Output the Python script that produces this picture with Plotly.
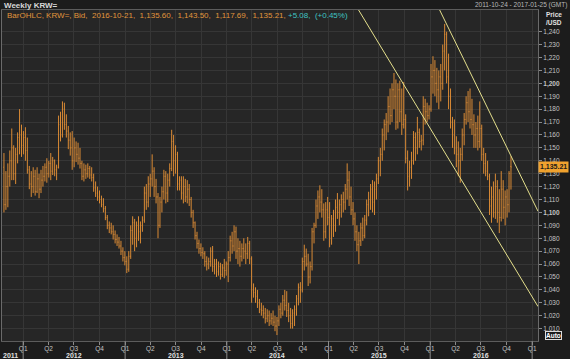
import plotly.graph_objects as go
import pandas as pd

# ---------------- data (weekly USD/KRW bars) ----------------
first_week = "2011-10-24"

opens = [1135, 1106, 1120, 1128, 1140, 1150, 1130, 1145, 1158, 1160,
         1152, 1158, 1148, 1133, 1122, 1120, 1128, 1116, 1126, 1118,
         1125, 1128, 1135, 1130, 1138, 1132, 1140, 1133, 1135, 1168,
         1160, 1180, 1168, 1163, 1156, 1150, 1140, 1150, 1145, 1142,
         1138, 1128, 1133, 1130, 1134, 1129, 1127, 1119, 1115, 1112,
         1110, 1106, 1103, 1096, 1090, 1088, 1085, 1083, 1079, 1077,
         1074, 1070, 1065, 1062, 1056, 1066, 1086, 1092, 1080, 1090,
         1085, 1090, 1094, 1115, 1108, 1122, 1126, 1132, 1120, 1112,
         1090, 1108, 1116, 1128, 1115, 1125, 1134, 1155, 1140, 1145,
         1122, 1125, 1115, 1120, 1112, 1118, 1110, 1100, 1092, 1082,
         1076, 1072, 1069, 1068, 1062, 1060, 1062, 1070, 1058, 1060,
         1054, 1058, 1052, 1057, 1055, 1060, 1065, 1078, 1074, 1085,
         1070, 1072, 1066, 1072, 1070, 1068, 1076, 1064, 1040, 1038,
         1035, 1030, 1025, 1024, 1022, 1018, 1020, 1016, 1018, 1015,
         1012, 1016, 1025, 1022, 1032, 1028, 1024, 1020, 1014, 1022,
         1025, 1033, 1042, 1040, 1062, 1066, 1060, 1050, 1058, 1085,
         1090, 1105, 1112, 1108, 1102, 1085, 1102, 1096, 1080, 1095,
         1090, 1104, 1100, 1106, 1110, 1108, 1118, 1125, 1112, 1102,
         1095, 1085, 1075, 1078, 1088, 1082, 1094, 1106, 1110, 1118,
         1108, 1118, 1126, 1140, 1145, 1160, 1168, 1170, 1182, 1175,
         1195, 1190, 1170, 1195, 1178, 1168, 1172, 1142, 1128, 1135,
         1140, 1158, 1150, 1162, 1155, 1156, 1182, 1178, 1175, 1180,
         1205, 1210, 1200, 1195, 1205, 1200, 1225, 1238, 1205, 1190,
         1170, 1160, 1150, 1145, 1140, 1145, 1160, 1172, 1185, 1178,
         1172, 1168, 1160, 1165, 1155, 1165, 1145, 1138, 1132, 1128,
         1105, 1112, 1100, 1120, 1100, 1096, 1118, 1104, 1112, 1106,
         1135.60]

highs = [1146, 1132, 1138, 1148, 1165, 1152, 1150, 1162, 1180, 1168,
         1163, 1166, 1158, 1136, 1132, 1135, 1133, 1135, 1130, 1133,
         1136, 1138, 1142, 1140, 1146, 1143, 1141, 1137, 1175, 1178,
         1186, 1185, 1176, 1167, 1162, 1163, 1158, 1155, 1154, 1150,
         1140, 1138, 1137, 1138, 1136, 1135, 1130, 1124, 1120, 1117,
         1113, 1111, 1105, 1098, 1093, 1092, 1090, 1086, 1083, 1081,
         1078, 1073, 1070, 1066, 1070, 1090, 1097, 1095, 1093, 1097,
         1093, 1097, 1120, 1122, 1128, 1130, 1145, 1135, 1126, 1115,
         1112, 1120, 1133, 1132, 1130, 1138, 1164, 1160, 1152, 1147,
         1128, 1128, 1128, 1126, 1125, 1122, 1112, 1102, 1093, 1085,
         1079, 1076, 1073, 1070, 1066, 1065, 1073, 1074, 1064, 1064,
         1062, 1061, 1060, 1064, 1062, 1070, 1082, 1085, 1090, 1089,
         1080, 1078, 1076, 1080, 1076, 1081, 1078, 1066, 1045, 1042,
         1040, 1033, 1030, 1028, 1026, 1025, 1024, 1022, 1024, 1020,
         1019, 1028, 1030, 1036, 1040, 1039, 1030, 1026, 1025, 1028,
         1036, 1045, 1046, 1065, 1075, 1072, 1068, 1062, 1088, 1092,
         1110, 1117, 1121, 1118, 1107, 1108, 1112, 1108, 1098, 1102,
         1110, 1115, 1110, 1114, 1116, 1122, 1138, 1132, 1120, 1108,
         1100, 1090, 1085, 1092, 1096, 1098, 1110, 1116, 1122, 1125,
         1124, 1130, 1143, 1150, 1165, 1172, 1177, 1190, 1196, 1200,
         1208, 1203, 1200, 1202, 1196, 1201, 1176, 1148, 1140, 1147,
         1163, 1162, 1174, 1165, 1160, 1190, 1188, 1185, 1183, 1215,
         1221, 1218, 1212, 1210, 1215, 1230, 1246, 1240, 1223, 1196,
         1174, 1172, 1159, 1155, 1150, 1165, 1177, 1190, 1194, 1196,
         1188, 1176, 1170, 1175, 1186, 1168, 1150, 1146, 1140, 1130,
         1120, 1124, 1130, 1125, 1118, 1132, 1125, 1117, 1118, 1132,
         1143.50]

lows = [1100, 1102, 1104, 1120, 1125, 1125, 1122, 1138, 1145, 1143,
        1145, 1140, 1130, 1118, 1112, 1115, 1113, 1115, 1111, 1115,
        1120, 1124, 1123, 1127, 1125, 1129, 1128, 1125, 1134, 1155,
        1158, 1164, 1158, 1149, 1144, 1133, 1135, 1139, 1137, 1134,
        1125, 1124, 1126, 1127, 1126, 1124, 1116, 1112, 1109, 1107,
        1104, 1100, 1094, 1087, 1084, 1083, 1079, 1076, 1074, 1072,
        1067, 1062, 1059, 1053, 1054, 1064, 1075, 1070, 1073, 1078,
        1076, 1085, 1092, 1102, 1104, 1112, 1120, 1112, 1107, 1080,
        1088, 1100, 1110, 1107, 1108, 1120, 1132, 1128, 1130, 1117,
        1117, 1110, 1107, 1108, 1107, 1105, 1096, 1088, 1079, 1072,
        1068, 1066, 1064, 1058, 1055, 1056, 1058, 1054, 1052, 1050,
        1051, 1048, 1050, 1049, 1051, 1046, 1062, 1068, 1070, 1064,
        1060, 1058, 1062, 1064, 1060, 1064, 1060, 1030, 1034, 1030,
        1026, 1022, 1020, 1018, 1014, 1015, 1012, 1013, 1012, 1008,
        1005, 1012, 1018, 1020, 1024, 1019, 1015, 1010, 1010, 1012,
        1020, 1028, 1030, 1038, 1055, 1058, 1043, 1045, 1055, 1076,
        1088, 1095, 1100, 1096, 1078, 1080, 1090, 1073, 1075, 1081,
        1085, 1095, 1090, 1096, 1100, 1102, 1110, 1105, 1098, 1090,
        1078, 1070, 1060, 1074, 1078, 1080, 1090, 1097, 1102, 1100,
        1098, 1110, 1122, 1128, 1140, 1148, 1156, 1162, 1168, 1170,
        1180, 1164, 1165, 1170, 1160, 1165, 1138, 1117, 1120, 1126,
        1137, 1140, 1145, 1150, 1148, 1152, 1168, 1170, 1172, 1178,
        1192, 1190, 1185, 1180, 1186, 1195, 1210, 1200, 1180, 1165,
        1150, 1145, 1135, 1128, 1123, 1140, 1152, 1168, 1170, 1165,
        1160, 1150, 1150, 1148, 1150, 1140, 1130, 1128, 1125, 1098,
        1092, 1096, 1095, 1092, 1084, 1093, 1095, 1090, 1096, 1100,
        1117.69]

closes = [1106, 1120, 1128, 1140, 1150, 1130, 1145, 1158, 1160, 1152,
          1158, 1148, 1133, 1122, 1120, 1128, 1116, 1126, 1118, 1125,
          1128, 1135, 1130, 1138, 1132, 1140, 1133, 1135, 1168, 1160,
          1180, 1168, 1163, 1156, 1150, 1140, 1150, 1145, 1142, 1138,
          1128, 1133, 1130, 1134, 1129, 1127, 1119, 1115, 1112, 1110,
          1106, 1103, 1096, 1090, 1088, 1085, 1083, 1079, 1077, 1074,
          1070, 1065, 1062, 1056, 1066, 1086, 1092, 1080, 1090, 1085,
          1090, 1094, 1115, 1108, 1122, 1126, 1132, 1120, 1112, 1090,
          1108, 1116, 1128, 1115, 1125, 1134, 1155, 1140, 1145, 1122,
          1125, 1115, 1120, 1112, 1118, 1110, 1100, 1092, 1082, 1076,
          1072, 1069, 1068, 1062, 1060, 1062, 1070, 1058, 1060, 1054,
          1058, 1052, 1057, 1055, 1060, 1065, 1078, 1074, 1085, 1070,
          1072, 1066, 1072, 1070, 1068, 1076, 1064, 1040, 1038, 1035,
          1030, 1025, 1024, 1022, 1018, 1020, 1016, 1018, 1015, 1012,
          1016, 1025, 1022, 1032, 1028, 1024, 1020, 1014, 1022, 1025,
          1033, 1042, 1040, 1062, 1066, 1060, 1050, 1058, 1085, 1090,
          1105, 1112, 1108, 1102, 1085, 1102, 1096, 1080, 1095, 1090,
          1104, 1100, 1106, 1110, 1108, 1118, 1125, 1112, 1102, 1095,
          1085, 1075, 1078, 1088, 1082, 1094, 1106, 1110, 1118, 1108,
          1118, 1126, 1140, 1145, 1160, 1168, 1170, 1182, 1175, 1195,
          1190, 1170, 1195, 1178, 1168, 1172, 1142, 1128, 1135, 1140,
          1158, 1150, 1162, 1155, 1156, 1182, 1178, 1175, 1180, 1205,
          1210, 1200, 1195, 1205, 1200, 1225, 1238, 1205, 1190, 1170,
          1160, 1150, 1145, 1140, 1145, 1160, 1172, 1185, 1178, 1172,
          1168, 1160, 1165, 1155, 1165, 1145, 1138, 1132, 1128, 1105,
          1112, 1100, 1120, 1100, 1096, 1118, 1104, 1112, 1106, 1130.13,
          1135.21]

# hand-drawn downward channel (two trend lines)
upper_line_x = ["2016-02-04", "2017-01-22"]
upper_line_y = [1256.8, 1100.9]
lower_line_x = ["2015-04-19", "2017-01-22"]
lower_line_y = [1256.8, 1027.1]

last_price = 1135.21

x_range = ["2011-10-17", "2017-01-22"]
y_range = [1000.4, 1256.8]

quarter_starts = pd.date_range("2012-01-01", "2017-01-01", freq="QS")
quarter_text = [f"Q{d.quarter}" for d in quarter_starts]
label_years = [2012, 2013, 2014, 2015, 2016]
year_bounds = [2012, 2013, 2014, 2015, 2016, 2017]
price_ticks = list(range(1010, 1250, 10))
price_text = [f"<b>{v:,}</b>" if v % 100 == 0 else f"{v:,}" for v in price_ticks]

header_title = "Weekly KRW="
header_range = "2011-10-24 - 2017-01-25 (GMT)"
legend_main = "BarOHLC, KRW=, Bid,  2016-10-21,  1,135.60,  1,143.50,  1,117.69,  1,135.21, "
legend_change = "+5.08,  (+0.45%)"

# ---------------- styling ----------------
PAPER = "#1c1c1c"
PLOT = "#262626"
GRID = "#363636"
BAR = "#d98a35"
TREND = "#e4df8c"
TEXT = "#c4c4c4"
FONT = "Liberation Sans"

dates = pd.date_range(first_week, periods=len(opens), freq="7D")

fig = go.Figure()
fig.add_trace(go.Ohlc(
    x=dates, open=opens, high=highs, low=lows, close=closes,
    increasing=dict(line=dict(color=BAR, width=1)),
    decreasing=dict(line=dict(color=BAR, width=1)),
    tickwidth=0.3, hoverinfo="skip", showlegend=False,
))
fig.add_trace(go.Scatter(x=upper_line_x, y=upper_line_y, mode="lines",
                         line=dict(color=TREND, width=1), hoverinfo="skip", showlegend=False))
fig.add_trace(go.Scatter(x=lower_line_x, y=lower_line_y, mode="lines",
                         line=dict(color=TREND, width=1), hoverinfo="skip", showlegend=False))

shapes = []
for yr in year_bounds:
    shapes.append(dict(type="line", xref="x", yref="paper",
                       x0=f"{yr}-01-01", x1=f"{yr}-01-01", y0=-18 / 331, y1=0,
                       line=dict(color="#8a8a8a", width=1)))

annotations = [
    dict(text=f"<b>{header_title}</b>", xref="paper", yref="paper", x=0, y=1,
         xanchor="left", yanchor="middle", yshift=5, xshift=0, showarrow=False,
         font=dict(family=FONT, size=8, color="#d8d8d8")),
    dict(text=header_range, xref="paper", yref="paper", x=1, y=1,
         xanchor="right", yanchor="middle", yshift=5, xshift=31, showarrow=False,
         font=dict(family=FONT, size=6.5, color="#b8b8b8")),
    dict(text=f'<span style="color:#e0953c">{legend_main}</span>'
              f'<span style="color:#3fc4c4">{legend_change}</span>',
         xref="paper", yref="paper", x=0, y=1, xanchor="left", yanchor="middle",
         yshift=-5, xshift=3, showarrow=False, font=dict(family=FONT, size=8)),
    dict(text="<b>Price<br>/USD</b>", xref="paper", yref="paper", x=1, y=1,
         xanchor="left", yanchor="top", xshift=6, yshift=1, showarrow=False, align="left",
         font=dict(family=FONT, size=6.5, color="#e0e0e0")),
    dict(text=f"<b>{last_price:,.2f}</b>", xref="paper", yref="y", x=1, y=last_price,
         xanchor="left", yanchor="middle", xshift=0, showarrow=False,
         bgcolor="#f0a22e", borderpad=1,
         font=dict(family=FONT, size=7, color="#1a1a1a")),
    dict(text="<b>Auto</b>", xref="paper", yref="paper", x=1, y=0,
         xanchor="left", yanchor="bottom", xshift=7, yshift=1, showarrow=False,
         bordercolor="#dddddd", borderwidth=1, borderpad=0,
         font=dict(family=FONT, size=6.5, color="#ffffff")),
    dict(text="<b>2011</b>", xref="paper", yref="paper", x=0, y=0,
         xanchor="left", yanchor="top", xshift=-1, yshift=-8.5, showarrow=False,
         font=dict(family=FONT, size=7, color="#e0e0e0")),
]
for yr in label_years:
    annotations.append(dict(text=f"<b>{yr}</b>", xref="x", yref="paper", x=f"{yr}-07-01", y=0,
                            xanchor="center", yanchor="top", yshift=-8.5, showarrow=False,
                            font=dict(family=FONT, size=7, color="#e0e0e0")))

fig.update_layout(
    width=570, height=359,
    margin=dict(l=2, r=32, t=10, b=18),
    paper_bgcolor=PAPER, plot_bgcolor=PLOT,
    showlegend=False, hovermode=False,
    font=dict(family=FONT, size=6.5, color=TEXT),
    xaxis=dict(
        type="date", range=x_range, rangeslider=dict(visible=False),
        tickvals=quarter_starts, ticktext=quarter_text,
        ticks="outside", ticklen=3, tickcolor="#8a8a8a",
        tickfont=dict(family=FONT, size=6.5, color=TEXT),
        ticklabelstandoff=-2,
        showgrid=True, gridcolor=GRID, gridwidth=1,
        showline=True, linecolor="#5c5c5c", mirror=True, zeroline=False,
        fixedrange=True,
    ),
    yaxis=dict(
        side="right", range=y_range,
        tickvals=price_ticks, ticktext=price_text,
        ticks="outside", ticklen=3, tickcolor="#8a8a8a",
        tickfont=dict(family=FONT, size=6.5, color=TEXT),
        showgrid=True, gridcolor=GRID, gridwidth=1,
        showline=True, linecolor="#6a6a6a", mirror=True, zeroline=False,
        fixedrange=True,
    ),
    shapes=shapes,
    annotations=annotations,
)

fig.write_html("out.html")
